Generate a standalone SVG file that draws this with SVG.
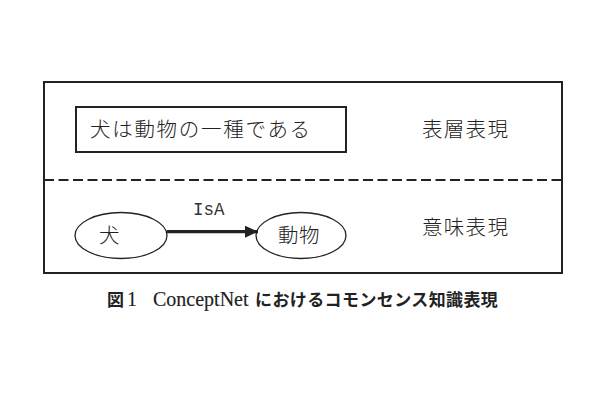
<svg xmlns="http://www.w3.org/2000/svg" width="610" height="400" viewBox="0 0 610 400">
<defs>
<style>
.jp{font-family:"Noto Sans CJK JP","Noto Sans CJK SC",sans-serif;font-weight:300;font-size:20.5px;fill:#222}
.box{fill:none;stroke:#222;stroke-width:2}
.ell{fill:#fff;stroke:#222;stroke-width:1.3}
.cap{font-family:"Noto Sans CJK JP",sans-serif;font-weight:bold;font-size:17px;fill:#222}
.lat{font-family:"Liberation Serif",serif;font-weight:normal;font-size:20px;fill:#222;stroke:#222;stroke-width:0.15}
</style>
<marker id="ah" viewBox="0 0 13 12" refX="13" refY="6" markerWidth="13" markerHeight="12" markerUnits="userSpaceOnUse" orient="auto">
<path d="M0,0 L13,6 L0,12 Z" fill="#222"/>
</marker>
</defs>
<rect width="610" height="400" fill="#fff"/>
<g id="frame">
<rect class="box" x="44" y="82" width="518" height="191"/>
<line x1="44" y1="180" x2="562" y2="180" stroke="#222" stroke-width="2" stroke-dasharray="10,4.5"/>
</g>
<g id="surface-node">
<rect class="box" x="76" y="107" width="270" height="45"/>
<text class="jp" x="90" y="137" letter-spacing="1.7">犬は動物の一種である</text>
</g>
<g id="surface-label">
<text class="jp" x="422" y="137" letter-spacing="1.3">表層表現</text>
</g>
<g id="semantic-label">
<text class="jp" x="422" y="235" letter-spacing="1.3">意味表現</text>
</g>
<g id="node-dog">
<ellipse class="ell" cx="121" cy="235.5" rx="46" ry="23"/>
<text class="jp" x="99" y="243">犬</text>
</g>
<g id="node-animal">
<ellipse class="ell" cx="301" cy="235.5" rx="45" ry="23"/>
<text class="jp" x="278" y="243" letter-spacing="0.5">動物</text>
</g>
<g id="connectors">
<line x1="167" y1="231.7" x2="258" y2="231.7" stroke="#222" stroke-width="3.2" marker-end="url(#ah)"/>
<text x="193" y="215" font-family="Liberation Mono, monospace" font-size="17.5" fill="#333">IsA</text>
</g>
<g id="caption">
<text y="306"><tspan class="cap" x="107">図</tspan><tspan class="lat" x="127">1</tspan><tspan class="lat" x="153">ConceptNet</tspan><tspan class="cap" x="255" letter-spacing="0.4">におけるコモンセンス知識表現</tspan></text>
</g>
</svg>
